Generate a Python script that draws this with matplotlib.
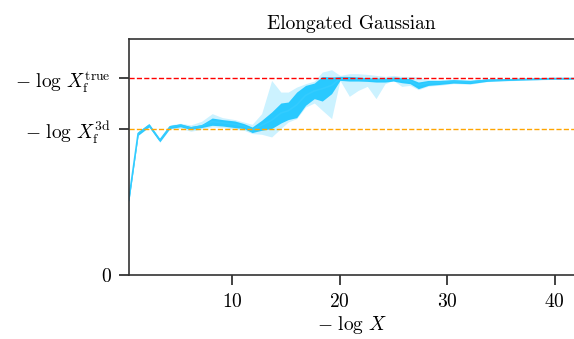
import matplotlib
matplotlib.use("Agg")
import matplotlib.pyplot as plt
import numpy as np

plt.rcParams['font.family'] = 'serif'
plt.rcParams['font.serif'] = ['cmr10']
plt.rcParams['mathtext.fontset'] = 'cm'
plt.rcParams['axes.unicode_minus'] = False
plt.rcParams['axes.formatter.use_mathtext'] = True

# -log X_f levels (arbitrary units, true level = 30)
logXf_true = 30.0
logXf_3d = 22.2

# -log X along the run
x = [0.38, 1.25, 2.27, 3.27, 4.20, 5.19, 6.15, 7.15, 8.14, 9.10, 10.25, 11.09,
     11.86, 12.74, 13.67, 14.53, 15.21, 16.0, 16.83, 17.64, 18.38, 19.25, 20.03,
     20.9, 21.73, 22.57, 23.38, 24.22, 24.99, 25.77, 26.55, 27.32, 28.25, 29.34,
     30.58, 32.13, 33.69, 35.23, 36.79, 38.34, 39.89, 41.82]

# inner band (e.g. 1 sigma)
inner_hi = [11.73, 21.85, 23.07, 20.79, 22.81, 23.07, 22.66, 22.95, 23.95, 23.71,
            23.50, 23.10, 22.58, 23.60, 24.87, 26.24, 26.39, 27.91, 28.93, 29.28,
            30.30, 30.20, 30.30, 30.30, 30.20, 30.10, 30.05, 30.05, 30.20, 30.10,
            29.95, 29.44, 29.69, 29.69, 29.80, 29.69, 29.89, 29.89, 29.95, 30.0,
            30.05, 30.05]
inner_lo = [11.12, 21.32, 22.61, 20.33, 22.35, 22.61, 22.20, 22.49, 22.84, 22.73,
            22.49, 22.34, 21.73, 22.08, 22.34, 23.19, 23.71, 24.01, 25.89, 26.91,
            26.54, 27.67, 29.69, 29.59, 29.59, 29.54, 29.44, 29.44, 29.59, 29.34,
            29.19, 28.43, 28.93, 29.08, 29.28, 29.19, 29.54, 29.65, 29.74, 29.8,
            29.89, 29.89]

# outer band (e.g. 2 sigma)
outer_hi = [11.8, 21.9, 23.15, 20.85, 22.9, 23.15, 22.9, 23.45, 24.62, 24.01,
            23.71, 23.34, 22.99, 24.62, 29.69, 27.91, 27.91, 28.67, 29.19, 29.59,
            30.96, 31.32, 30.46, 30.71, 30.71, 30.61, 30.46, 30.30, 30.46, 30.30,
            30.30, 30.20, 29.80, 29.80, 29.90, 29.80, 29.95, 29.95, 30.0, 30.05,
            30.1, 30.1]
outer_lo = [11.05, 21.3, 22.55, 20.25, 22.3, 22.38, 21.93, 22.23, 22.58, 22.49,
            22.23, 22.08, 21.58, 21.47, 21.06, 22.34, 23.34, 23.86, 25.63, 26.24,
            25.13, 23.86, 29.69, 27.26, 28.17, 28.78, 26.91, 29.19, 29.69, 28.78,
            28.93, 28.28, 28.82, 28.95, 29.2, 29.1, 29.5, 29.6, 29.7, 29.75,
            29.85, 29.85]

x = np.array(x)
mid = (np.array(inner_hi) + np.array(inner_lo)) / 2

fig = plt.figure(figsize=(5.74, 3.39), dpi=100)
ax = fig.add_axes([0.2247, 0.1888, 0.7753, 0.696])

ax.fill_between(x, outer_lo, outer_hi, color='deepskyblue', alpha=0.2, lw=0)
ax.fill_between(x, inner_lo, inner_hi, color='deepskyblue', alpha=0.8, lw=0)
ax.plot(x, mid, color='#33ccff', lw=1.2)

ax.axhline(logXf_true, color='red', ls='--', lw=1)
ax.axhline(logXf_3d, color='orange', ls='--', lw=1)

ax.set_xlim(0.4, 41.8)
ax.set_ylim(0, 1.2 * logXf_true)
ax.set_xticks([10, 20, 30, 40])
ax.set_yticks([0, logXf_3d, logXf_true])
ax.set_yticklabels(['0', r'$-\ \log\,X_{\mathrm{f}}^{\mathrm{3d}}$',
                    r'$-\ \log\,X_{\mathrm{f}}^{\mathrm{true}}$'])
ax.tick_params(labelsize=14, length=7, width=1.2, pad=6, color='#222222')
ax.set_xlabel(r'$-\ \log\,X$', fontsize=14, labelpad=2)
ax.set_title('Elongated Gaussian', fontsize=14, pad=7)
ax.spines['right'].set_visible(False)
for s in ['left', 'bottom', 'top']:
    ax.spines[s].set_linewidth(1.2)
    ax.spines[s].set_color('#333333')

fig.savefig('out.png', dpi=100)
